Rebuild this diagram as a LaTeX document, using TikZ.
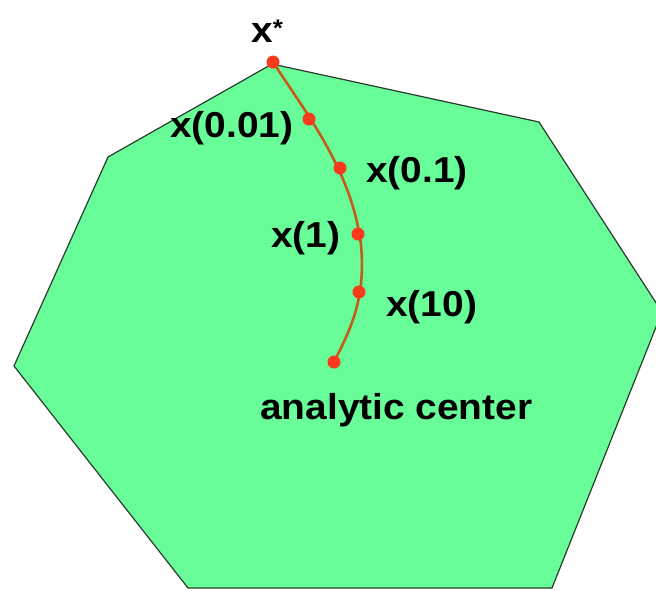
\documentclass[tikz,border=0pt]{standalone}
\usepackage{fontspec}
\setmainfont{Liberation Sans}[FakeStretch=1.08]
\usepackage{tikz}
\usetikzlibrary{positioning}

\definecolor{regiongreen}{RGB}{104,253,152}
\definecolor{edgegray}{RGB}{40,60,45}
\definecolor{dotred}{RGB}{250,58,28}
\definecolor{pathbrown}{RGB}{196,92,30}

\begin{document}
\begin{tikzpicture}[
    x=1pt, y=-1pt,
    region/.style={draw=edgegray, fill=regiongreen, line width=1.2pt, line join=miter},
    cpath/.style={draw=pathbrown, line width=2.6pt},
    pt/.style={circle, fill=dotred, inner sep=0pt, minimum size=13pt},
    lbl/.style={font=\fontsize{36}{40}\selectfont\bfseries, anchor=base west,
        inner sep=0pt, text=black},
]
    \useasboundingbox (0,0) rectangle (656,590);
    \clip (0,0) rectangle (656,590);

    % ---------- feasible set ----------
    \draw[region] (272,64) -- (539,122) -- (662,312) -- (552,588)
        -- (188,588) -- (14,366) -- (108,157) -- cycle;

    % ---------- central path ----------
    \coordinate (pstar) at (273,62);
    \coordinate (p001)  at (309,119);
    \coordinate (p01)   at (340,168);
    \coordinate (p1)    at (358,234);
    \coordinate (p10)   at (359,292);
    \coordinate (pac)   at (334,362);
    \coordinate (bend)  at (361,245);
    \draw[cpath] (pstar) .. controls (305,112) and (352,170) .. (bend)
        .. controls (366,300) and (350,330) .. (pac);
    \foreach \p in {pstar,p001,p01,p1,p10,pac}
        \node[pt] (d-\p) at (\p) {};

    % ---------- labels ----------
    \node[lbl] (lstar) at (251,42)
        {x\raisebox{6pt}{\fontsize{24}{24}\selectfont *}};
    \node[lbl] (l001)  at (170,137) {x(0.01)};
    \node[lbl] (l01)   at (366,182) {x(0.1)};
    \node[lbl] (l1)    at (271,247) {x(1)};
    \node[lbl] (l10)   at (386,316) {x(10)};
    \node[lbl] (lac)   at (260,419) {analytic center};
\end{tikzpicture}
\end{document}
